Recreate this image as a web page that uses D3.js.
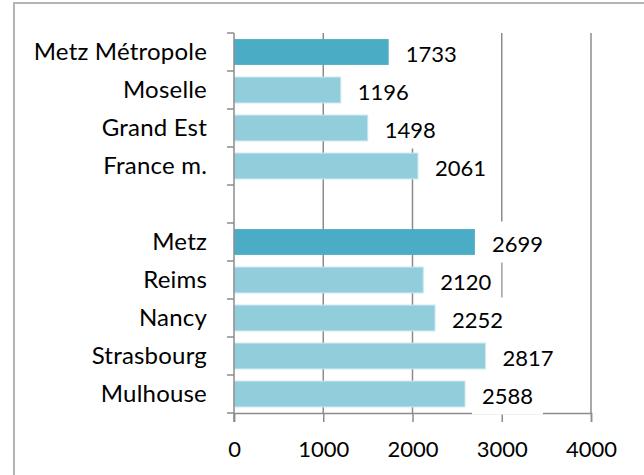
<!DOCTYPE html>
<html><head><meta charset="utf-8">
<script src="https://cdn.jsdelivr.net/npm/d3@7"></script>
<style>body{margin:0;background:#fff}svg{display:block}</style>
</head><body>
<svg id="c" width="644" height="475"></svg>
<script>
const categories = ["Metz Métropole","Moselle","Grand Est","France m.","","Metz","Reims","Nancy","Strasbourg","Mulhouse"];
const values = [1733,1196,1498,2061,null,2699,2120,2252,2817,2588];
const highlight = [true,false,false,false,false,true,false,false,false,false];
const xTicks = [0,1000,2000,3000,4000];

(function(){
const svg = d3.select("#c");
const font = "Lato, 'Open Sans', sans-serif";
const keys = categories.map((c,i)=>i);
const x = d3.scaleLinear().domain([0,4000]).range([234,591]);
const y = d3.scaleBand().domain(keys).range([33,413]).paddingInner(0.32).paddingOuter(0.16);
const step = y.step();
const yTop = y.range()[0], yBot = y.range()[1];

// outer frame
svg.append("rect").attr("x",14).attr("y",3).attr("width",700).attr("height",600)
  .attr("fill","none").attr("stroke","#b4b4b4").attr("stroke-width",2);

// gridlines
svg.append("g").selectAll("line").data(xTicks.slice(1)).join("line")
  .attr("x1",d=>x(d)).attr("x2",d=>x(d)).attr("y1",yTop).attr("y2",yBot)
  .attr("stroke","#8c8c8c").attr("stroke-width",1.5);

// x axis
const xa = svg.append("g").attr("transform",`translate(0,${yBot})`)
  .call(d3.axisBottom(x).tickValues(xTicks).tickSize(9).tickPadding(8).tickFormat(d3.format("d")));
xa.select(".domain").attr("stroke","#8c8c8c").attr("stroke-width",1.5);
xa.selectAll(".tick line").attr("stroke","#8c8c8c").attr("stroke-width",1.5);
xa.selectAll("text").attr("font-family",font).attr("font-size",22).attr("fill","#000")
  .attr("y",44).attr("dy",0);

// bars
const data = keys.filter(i=>values[i]!==null);
svg.append("g").selectAll("rect").data(data).join("rect")
  .attr("x",x(0)).attr("y",i=>y(i)).attr("width",i=>x(values[i])-x(0)).attr("height",y.bandwidth())
  .attr("fill",i=>highlight[i]?"#4BACC6":"#92CDDC")
  .attr("stroke",i=>highlight[i]?"none":"#c8e6ee").attr("stroke-width",1);

// value labels with white boxes
const lg = svg.append("g");
data.forEach(i=>{
  const cy = y(i)+y.bandwidth()/2;
  const t = lg.append("text").attr("x",x(values[i])+17).attr("y",cy+9.5)
    .attr("font-family",font).attr("font-size",22).attr("fill","#000").text(values[i]);
  const w = t.node().getComputedTextLength();
  lg.insert("rect","text").attr("x",x(values[i])+7).attr("y",cy-20.5).attr("width",w+20).attr("height",41).attr("fill","#fff");
});

// y axis
const ya = svg.append("g").attr("transform",`translate(${x(0)},0)`);
ya.append("line").attr("x1",0).attr("x2",0).attr("y1",yTop).attr("y2",yBot+9)
  .attr("stroke","#8c8c8c").attr("stroke-width",1.5);
ya.selectAll("line.t").data(d3.range(categories.length+1)).join("line").attr("class","t")
  .attr("x1",-7).attr("x2",0).attr("y1",d=>yTop+d*step).attr("y2",d=>yTop+d*step)
  .attr("stroke","#8c8c8c").attr("stroke-width",1.5);
ya.selectAll("text").data(keys).join("text")
  .attr("x",-27).attr("y",i=>y(i)+y.bandwidth()/2+8).attr("text-anchor","end")
  .attr("font-family",font).attr("font-size",24).attr("letter-spacing",0.2)
  .attr("fill","#000").text(i=>categories[i]);
})();
</script>
</body></html>
